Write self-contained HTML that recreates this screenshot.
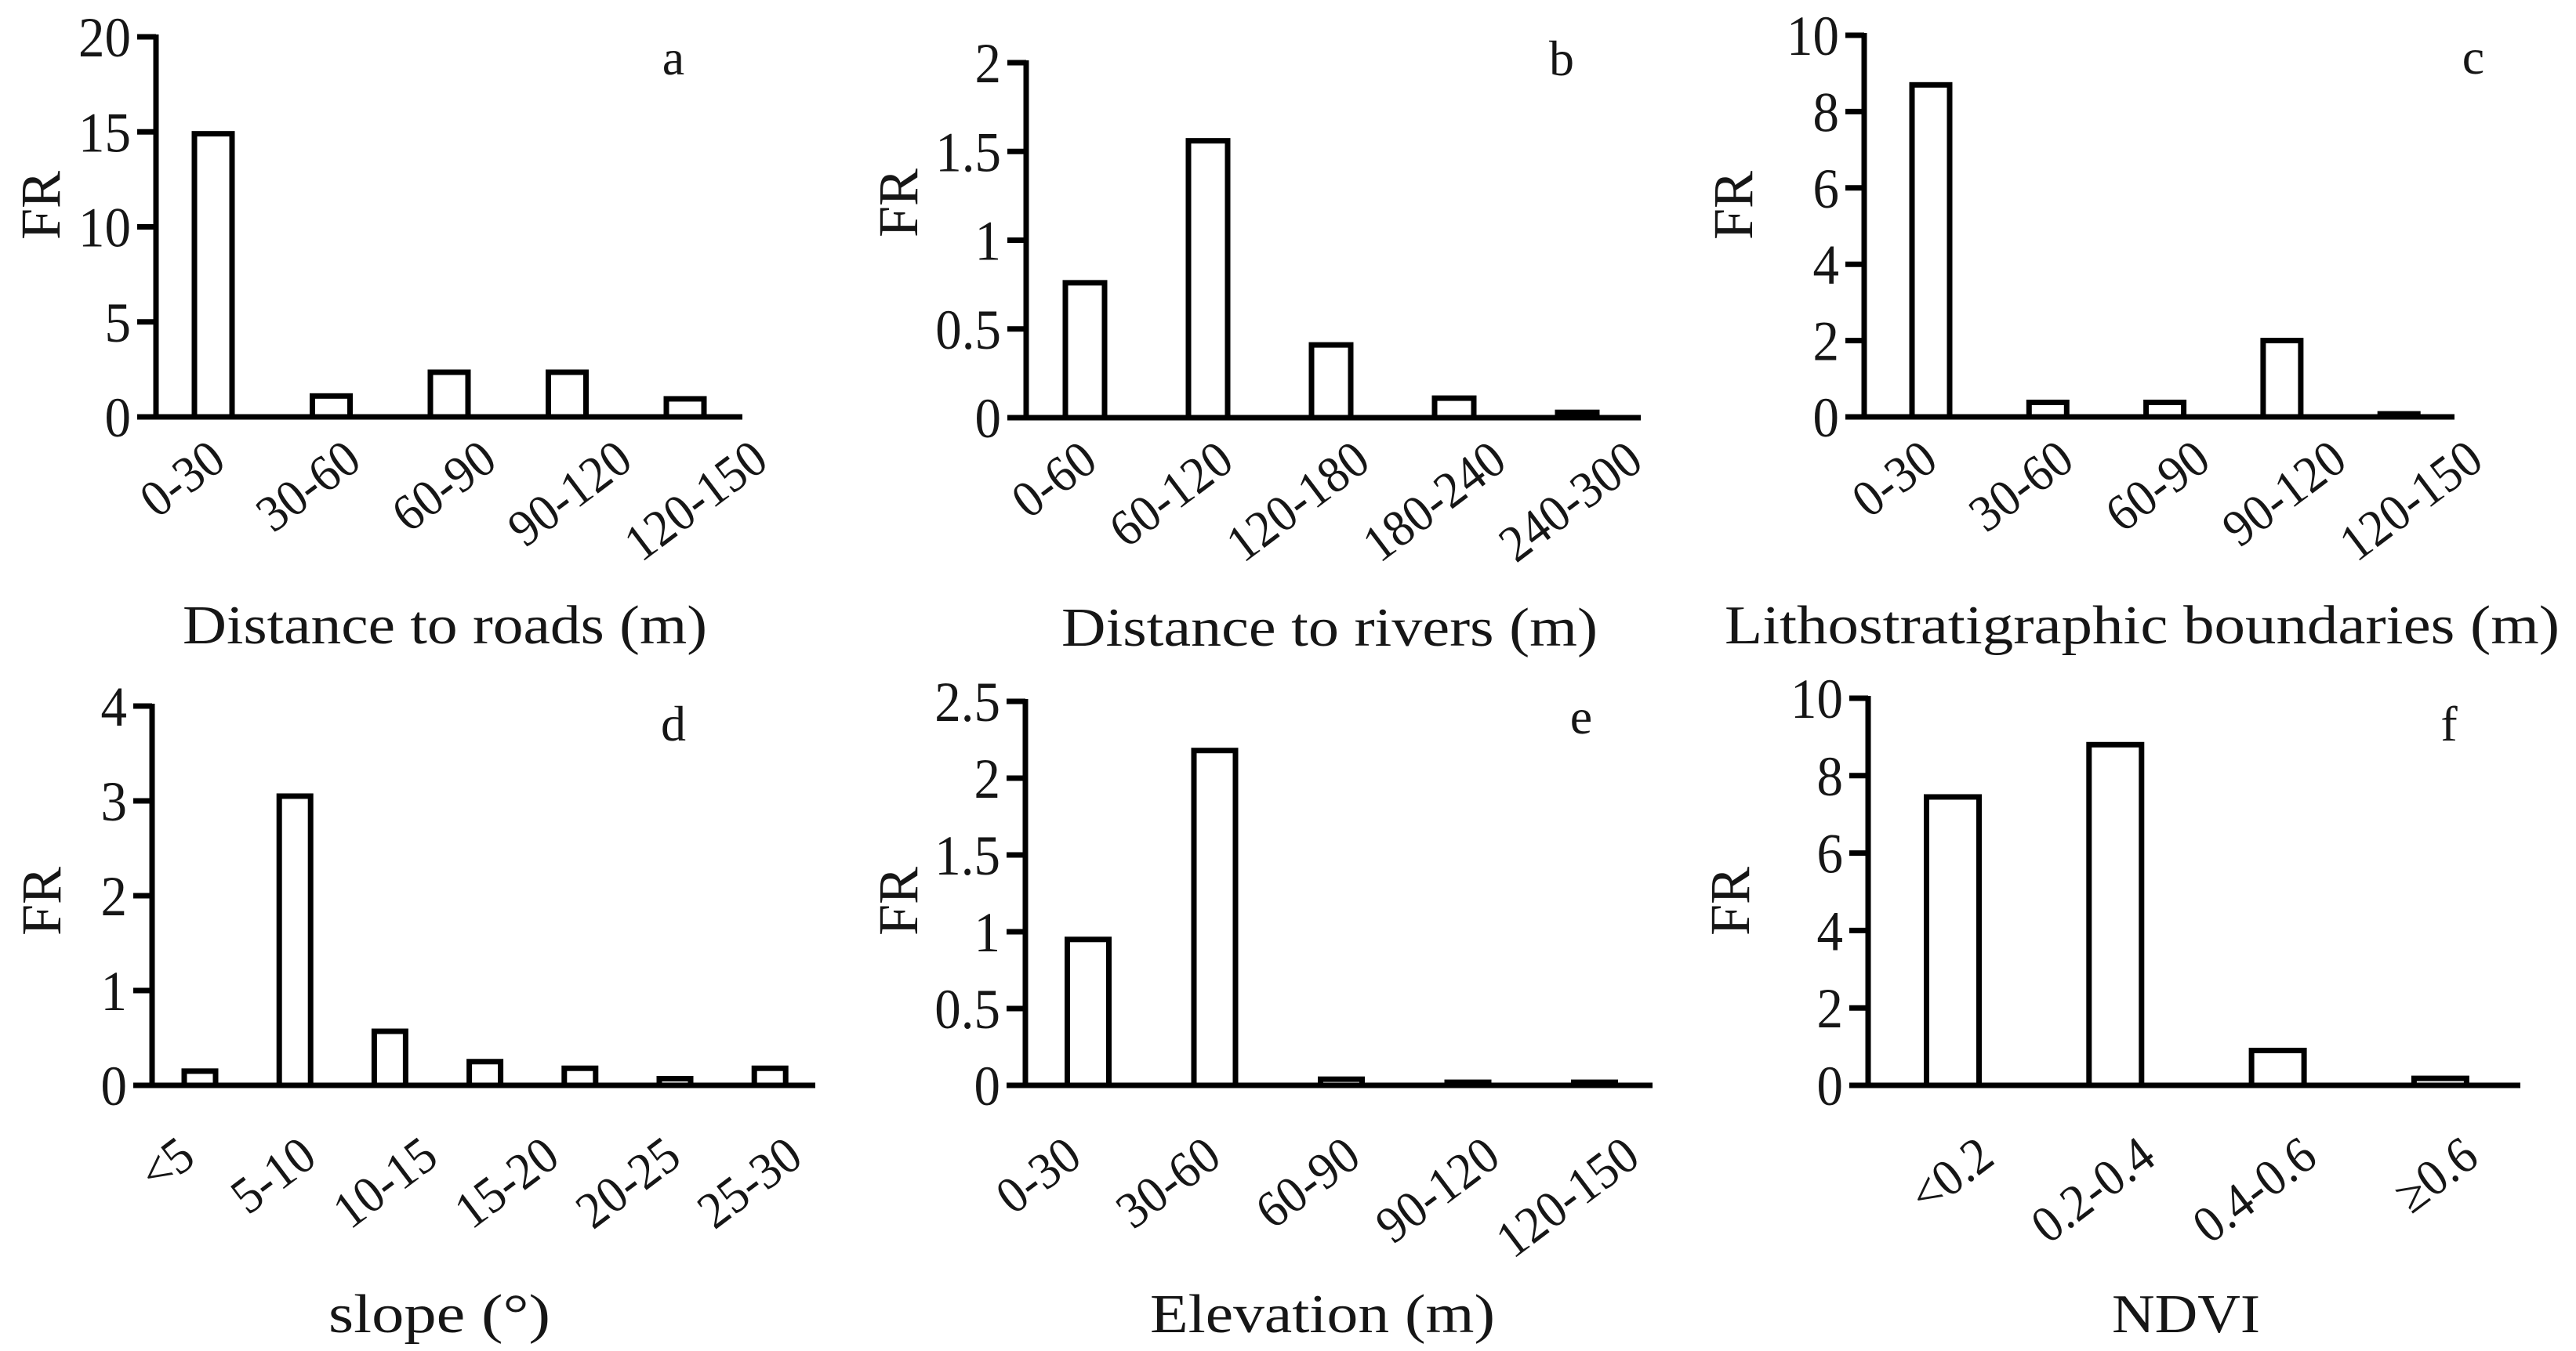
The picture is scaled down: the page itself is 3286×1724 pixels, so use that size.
<!DOCTYPE html>
<html>
<head>
<meta charset="utf-8">
<style>
  html,body{margin:0;padding:0;background:#fff;}
  svg{display:block;}
  text{font-family:"Liberation Serif","DejaVu Serif",serif;fill:#161616;}
</style>
</head>
<body>
<svg id="fig" width="3286" height="1724" viewBox="0 0 3286 1724" xmlns="http://www.w3.org/2000/svg">
  <rect x="0" y="0" width="3286" height="1724" fill="#fff"/>
</svg>
<script>
// ---- data ----
const catsA = ["0-30","30-60","60-90","90-120","120-150"];
const valsA = [14.9, 1.1, 2.35, 2.35, 0.95];
const ticksA = [0, 5, 10, 15, 20];

const catsB = ["0-60","60-120","120-180","180-240","240-300"];
const valsB = [0.76, 1.56, 0.41, 0.11, 0.03];
const ticksB = [0, 0.5, 1, 1.5, 2];

const catsC = ["0-30","30-60","60-90","90-120","120-150"];
const valsC = [8.7, 0.38, 0.38, 2.0, 0.08];
const ticksC = [0, 2, 4, 6, 8, 10];

const catsD = ["\u003C5","5-10","10-15","15-20","20-25","25-30"];
const valsD = [0.15, 3.05, 0.57, 0.25, 0.18, 0.07, 0.18];
const ticksD = [0, 1, 2, 3, 4];

const catsE = ["0-30","30-60","60-90","90-120","120-150"];
const valsE = [0.95, 2.18, 0.04, 0.02, 0.02];
const ticksE = [0, 0.5, 1, 1.5, 2, 2.5];

const catsF = ["\u003C0.2","0.2-0.4","0.4-0.6","\u22650.6"];
const valsF = [7.45, 8.8, 0.9, 0.18];
const ticksF = [0, 2, 4, 6, 8, 10];

const titles = ["Distance to roads  (m)","Distance to rivers  (m)","Lithostratigraphic boundaries  (m)","slope  (\u00B0)","Elevation  (m)","NDVI"];
const letters = ["a","b","c","d","e","f"];

// ---- layout (positions, not data) ----
const panels = [
  {cats:catsA, vals:valsA, ticks:ticksA, ax:199, top:47, zero:532, end:947, first:272, step:150.5, bw:48, lf:291, ls:173, loff:62, tx0:233, tx1:902, ty:821, lx:859, ly:95, frx:52, fry:262},
  {cats:catsB, vals:valsB, ticks:ticksB, ax:1309, top:80, zero:533, end:2093, first:1384, step:157, bw:50, lf:1403, ls:174, loff:62, tx0:1354, tx1:2038, ty:824, lx:1992, ly:96, frx:1146, fry:259},
  {cats:catsC, vals:valsC, ticks:ticksC, ax:2378, top:45, zero:532, end:3131, first:2463, step:149.3, bw:48, lf:2475, ls:174, loff:62, tx0:2200, tx1:3265, ty:821, lx:3155, ly:94, frx:2211, fry:262},
  {cats:catsD, vals:valsD, ticks:ticksD, ax:194, top:901, zero:1385, end:1040, first:255, step:121.2, bw:40, lf:252, ls:155, loff:98, tx0:419, tx1:702, ty:1700, lx:859, ly:945, frx:53, fry:1150},
  {cats:catsE, vals:valsE, ticks:ticksE, ax:1308, top:895, zero:1385, end:2108, first:1388, step:161.5, bw:53, lf:1383, ls:178, loff:98, tx0:1467, tx1:1907, ty:1700, lx:2017, ly:936, frx:1146, fry:1150},
  {cats:catsF, vals:valsF, ticks:ticksF, ax:2383, top:891, zero:1385, end:3215, first:2491, step:207.3, bw:67, lf:2547, ls:206, loff:98, tx0:2694, tx1:2883, ty:1700, lx:3124, ly:945, frx:2207, fry:1150}
];

const NS = "http://www.w3.org/2000/svg";
const svg = document.getElementById("fig");
function mk(tag, attrs, parent){
  const e = document.createElementNS(NS, tag);
  for (const k in attrs) e.setAttribute(k, attrs[k]);
  (parent||svg).appendChild(e);
  return e;
}

panels.forEach((p, pi) => {
  const g = mk("g", {});
  
  
  const ymax = p.ticks[p.ticks.length-1];
  const yScale = v => p.zero - (v / ymax) * (p.zero - p.top);
  const xScale = i => p.first + i * p.step;
  const lScale = i => p.lf + i * p.ls;

  for (let i = 0; i < p.vals.length; i++) {
    const y = yScale(p.vals[i]);
    const r = mk("rect", {x: xScale(i) - p.bw/2, y: y, width: p.bw, height: Math.max(p.zero - y, 0.5), fill:"#fff", stroke:"#000", "stroke-width":7}, g);
    
    
  }

  const yAxis = mk("line", {x1:p.ax, y1:p.top-3, x2:p.ax, y2:p.zero+3, stroke:"#000", "stroke-width":7}, g);
  
  
  const xAxis = mk("line", {x1:p.ax-24, y1:p.zero, x2:p.end, y2:p.zero, stroke:"#000", "stroke-width":7}, g);
  
  

  p.ticks.forEach(t => {
    const y = yScale(t);
    const tk = mk("line", {x1:p.ax-24, y1:y, x2:p.ax, y2:y, stroke:"#000", "stroke-width":7}, g);
    
    
    const tl = mk("text", {x:0, y:0, "font-size":72, "text-anchor":"end", transform:`translate(${p.ax-32} ${y+25}) scale(0.93 1)`}, g);
    tl.textContent = String(t);
    
    
  });

  p.cats.forEach((c, i) => {
    const cx = lScale(i), cy = p.zero + p.loff;
    const tl = mk("text", {x:0, y:0, "font-size":66, "text-anchor":"end", transform:`translate(${cx} ${cy}) rotate(-37) scale(0.94 1)`}, g);
    tl.textContent = c;
    
    
  });

  const fr = mk("text", {x:p.frx, y:p.fry, "font-size":72, "text-anchor":"middle", "dominant-baseline":"central", transform:`rotate(-90 ${p.frx} ${p.fry})`}, g);
  fr.textContent = "FR";
  
  

  const xt = mk("text", {x:p.tx0, y:p.ty, "font-size":70, textLength:p.tx1-p.tx0, lengthAdjust:"spacingAndGlyphs"}, g);
  xt.textContent = titles[pi];
  
  

  const lt = mk("text", {x:p.lx, y:p.ly, "font-size":64, "text-anchor":"middle"}, g);
  lt.textContent = letters[pi];
  
  
});
</script>
</body>
</html>
